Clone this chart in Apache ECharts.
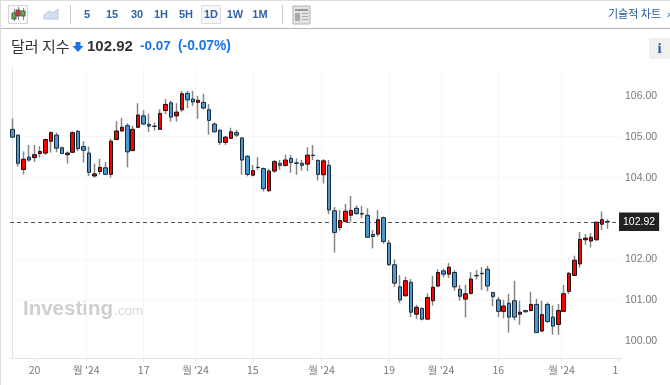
<!DOCTYPE html>
<html><head><meta charset="utf-8">
<script src="https://cdn.jsdelivr.net/npm/echarts@6/dist/echarts.min.js"></script>
<style>html,body{margin:0;padding:0;background:#fff}#c{width:670px;height:385px}</style>
</head><body><div id="c"></div>
<script>
const opens=[105.18,105.04,104.20,104.50,104.49,104.59,104.60,104.89,105.04,104.73,104.56,104.62,105.13,104.76,104.60,104.04,104.15,104.24,104.08,104.93,105.14,105.27,104.66,105.23,105.51,105.30,105.26,105.18,105.64,105.83,105.51,105.66,106.06,105.92,105.84,105.84,105.66,105.31,105.16,104.86,104.96,105.10,104.97,104.52,104.06,104.25,104.22,103.68,104.16,104.35,104.30,104.47,104.36,104.35,104.33,104.55,104.42,104.07,104.30,103.19,102.78,102.93,103.08,103.25,103.12,103.08,102.61,102.62,103.02,102.40,101.87,101.33,101.11,101.44,100.66,100.80,100.54,100.99,101.35,101.72,101.64,101.68,101.27,101.03,101.17,101.61,101.66,101.76,101.19,101.01,100.73,100.93,100.99,100.66,100.75,100.75,100.90,100.25,100.90,100.59,100.41,100.73,101.22,101.61,101.89,102.48,102.45,102.48,102.86,102.93];
const closes=[104.99,104.35,104.45,104.43,104.56,104.64,104.93,105.10,104.72,104.59,104.60,105.10,104.71,104.67,104.13,104.09,104.25,104.08,104.89,105.14,105.23,104.63,105.18,105.53,105.31,105.26,105.25,105.57,105.79,105.48,105.60,106.05,105.90,105.85,105.89,105.70,105.40,105.12,104.86,104.99,105.12,105.04,104.43,104.08,104.17,104.25,103.73,104.16,104.39,104.30,104.43,104.37,104.35,104.30,104.55,104.54,104.08,104.41,103.21,102.66,102.95,103.18,103.20,103.12,103.11,102.54,102.56,102.97,102.44,101.87,101.42,101.01,101.48,100.71,100.83,100.54,101.07,101.32,101.68,101.64,101.81,101.33,101.10,101.16,101.52,101.60,101.65,101.35,101.09,100.73,100.86,100.59,100.59,100.71,100.72,100.90,100.21,100.65,100.48,100.37,100.75,101.16,101.66,101.98,102.49,102.52,102.54,102.91,102.97,102.92];
const lows=[104.98,104.27,104.08,104.39,104.38,104.49,104.56,104.61,104.62,104.58,104.34,104.60,104.65,104.37,104.04,104.00,104.07,104.06,104.00,104.92,105.13,104.25,104.65,105.21,105.29,105.11,105.15,105.17,105.55,105.37,105.37,105.61,105.70,105.75,105.44,105.67,105.05,105.10,104.80,104.80,104.95,104.99,104.07,104.03,104.03,104.19,103.66,103.65,104.12,104.19,104.27,104.12,104.07,104.17,104.16,104.43,103.93,103.86,103.11,102.17,102.70,102.90,102.92,103.09,103.01,102.53,102.27,102.56,102.38,101.84,101.33,100.93,101.10,100.59,100.54,100.51,100.53,100.87,101.32,101.56,101.55,101.24,100.99,100.58,101.14,101.51,101.25,101.22,100.86,100.59,100.56,100.21,100.51,100.40,100.70,100.73,100.20,100.22,100.45,100.16,100.16,100.71,101.15,101.60,101.80,102.36,102.29,102.46,102.72,102.75];
const highs=[105.45,105.05,104.64,104.80,104.80,104.77,104.95,105.13,105.10,104.76,104.64,105.13,105.17,104.89,104.76,104.34,104.46,104.38,104.95,105.38,105.46,105.33,105.27,105.82,105.65,105.56,105.35,105.67,105.92,105.88,105.82,106.12,106.12,106.12,106.00,106.05,105.80,105.35,105.18,105.02,105.22,105.17,104.99,104.55,104.31,104.50,104.25,104.22,104.43,104.43,104.56,104.55,104.47,104.43,104.74,104.80,104.45,104.45,104.43,103.28,103.21,103.36,103.55,103.32,103.31,103.25,102.72,103.21,103.05,102.48,102.00,101.62,101.58,101.52,100.89,100.83,101.17,101.60,101.76,101.77,101.91,101.74,101.38,101.38,101.69,101.74,101.81,101.84,101.21,101.08,101.01,101.16,101.48,100.99,100.77,101.21,101.04,100.99,100.95,100.87,100.91,101.38,101.69,102.09,102.67,102.62,102.64,102.92,103.17,102.98];
const categories=Array.from({length:112},(_,i)=>String(i+1));
const yTicks=[100,101,102,103,104,105,106];
const yLabelTicks=[100,101,102,104,105,106];
const xTickPos=[4,13.5,24,33.5,44,56.6,69,78.5,89,100.6,111];
const xTickLabels=['20',"월 '24",'17',"월 '24",'15',"월 '24",'19',"월 '24",'16',"월 '24",'1'];
const lastPrice=102.92;
const toolbarLabels=['5','15','30','1H','5H','1D','1W','1M'];
const toolbarX=[87,112,137,161,186,211,235,260];

const LAT='"Liberation Sans",Arial,"Noto Sans CJK KR",sans-serif';
const KR='"Noto Sans CJK KR","Liberation Sans",sans-serif';
const wickData=opens.map((o,i)=>[o,closes[i],lows[i],highs[i]]);
const bodyData=opens.map((o,i)=>[o,closes[i],Math.min(o,closes[i]),Math.max(o,closes[i])]);
const txt=(x,y,t,fs,fill,w,align,ff)=>({type:'text',silent:true,x,y,style:{text:t,font:(w||'normal')+' '+fs+'px '+(ff||LAT),fill,textAlign:align||'left',textVerticalAlign:'middle'}});
const rect=(x,y,w,h,fill,stroke)=>({type:'rect',silent:true,shape:{x,y,width:w,height:h},style:{fill:fill||'none',stroke:stroke||'none',lineWidth:1}});
const graphic=[
 rect(0,0,670,1,'#dedede'),rect(0,28,670,1,'#b4b4b4'),rect(0,0,1,385,'#dcdcdc'),
 rect(8.5,5.5,19,18,'#f7f7f7','#d5d5d5'),
 rect(14,9,1,12,'#888'),rect(12,13,4,6,'#5fb04a','#555'),
 rect(18,7,1,13,'#888'),rect(16,10,4,6,'#e03030','#555'),
 rect(23,8,1,12,'#888'),rect(21,11,4,5,'#5fb04a','#555'),
 {type:'polygon',silent:true,shape:{points:[[44,19],[44,15],[49,11],[53,13],[58,9],[58,19]]},style:{fill:'#d3dfee',stroke:'#b6c8de',lineWidth:1}},
 rect(70,5,1,19,'#c8c8c8'),rect(282,5,1,19,'#c8c8c8'),
 rect(201.5,5.5,19,18,'#f6f6f6','#dddddd'),
 ...toolbarLabels.map((t,i)=>txt(toolbarX[i],14.5,t,11,'#2f64a5','bold','center')),
 rect(293,6,17,18,'#e4e4e4','#b4b4b4'),rect(295,9,13,2,'#999'),rect(295,13,5,8,'#aaa'),rect(302,13,6,1,'#aaa'),rect(302,16,6,1,'#aaa'),rect(302,19,6,1,'#aaa'),
 txt(608,13.5,'기술적 차트',11,'#2b5d9c','normal','left',KR),
 txt(667,15,'›',10,'#2b5d9c'),
 txt(11,46,'달러 지수',15,'#333','normal','left',KR),
 {type:'polygon',silent:true,shape:{points:[[75.5,42],[80.5,42],[80.5,46],[83.5,46],[78,52],[72.5,46],[75.5,46]]},style:{fill:'#1a73e8'}},
 txt(87,46.5,lastPrice.toFixed(2),15,'#333','bold'),
 txt(140,46.5,'-0.07',13.5,'#1a73e8','bold'),
 txt(178,46.5,'(-0.07%)',13.8,'#1a73e8','bold'),
 rect(649,38,21,21,'#f0f0f0'),
 txt(659.5,49,'i',15,'#2b5d9c','bold','center','"Liberation Serif",serif'),
 txt(23,309,'Investing',20.5,'#cfcfcf','bold'),
 txt(114,311,'.com',13.5,'#d8d8d8'),
 {type:'circle',silent:true,shape:{cx:85.5,cy:301,r:1.5},style:{fill:'#f6dcae'}}
];
const chart=echarts.init(document.getElementById('c'),null,{renderer:'canvas'});
chart.setOption({
 animation:false,backgroundColor:'#fff',
 grid:{left:10,right:49,top:68,height:290,containLabel:false},
 xAxis:[
  {type:'category',data:categories,show:false,boundaryGap:true},
  {type:'value',position:'bottom',min:-0.5,max:111.5,gridIndex:0,
   axisLine:{show:true,onZero:false,lineStyle:{color:'#dfe3ee'}},
   axisTick:{show:true,customValues:xTickPos,length:3,lineStyle:{color:'#dfe3ee'}},
   splitLine:{show:true,showMinLine:false,showMaxLine:false,lineStyle:{color:'#f5f6f9'}},
   axisLabel:{customValues:xTickPos,showMinLabel:true,showMaxLabel:true,alignMaxLabel:'right',margin:7,color:'#777',fontSize:10.5,fontFamily:KR,
     formatter:v=>xTickLabels[xTickPos.indexOf(v)]||''}}
 ],
 yAxis:{type:'value',position:'right',offset:-2,min:99.59,max:106.68,scale:true,
   axisLine:{show:true,lineStyle:{color:'#dfe3ee'}},
   axisTick:{show:false,customValues:yTicks},
   splitLine:{show:true,showMinLine:false,showMaxLine:false,lineStyle:{color:'#f5f6f9'}},
   axisLabel:{customValues:yLabelTicks,margin:6,padding:[4,0,0,0],color:'#777',fontSize:10.5,fontFamily:LAT,formatter:v=>v.toFixed(2)}},
 series:[
  {name:'wick',type:'candlestick',xAxisIndex:0,yAxisIndex:0,barWidth:1,data:wickData,silent:true,z:2,
   itemStyle:{color:'#858585',color0:'#858585',borderColor:'#858585',borderColor0:'#858585',borderWidth:1.5},
   markLine:{silent:true,symbol:'none',precision:2,data:[{yAxis:lastPrice}],
    lineStyle:{color:'#555',type:[4,3],width:1},
    label:{show:true,position:'end',distance:-2,formatter:lastPrice.toFixed(2),backgroundColor:'#222',color:'#fff',fontSize:10.5,fontFamily:LAT,padding:[4,4]},z:1}},
  {name:'body',type:'candlestick',xAxisIndex:0,yAxisIndex:0,barWidth:4,data:bodyData,silent:true,z:3,
   itemStyle:{color:'#ff0000',color0:'#4a97d2',borderColor:'#111',borderColor0:'#1c2a38',borderWidth:1}}
 ],
 graphic
});
</script></body></html>
